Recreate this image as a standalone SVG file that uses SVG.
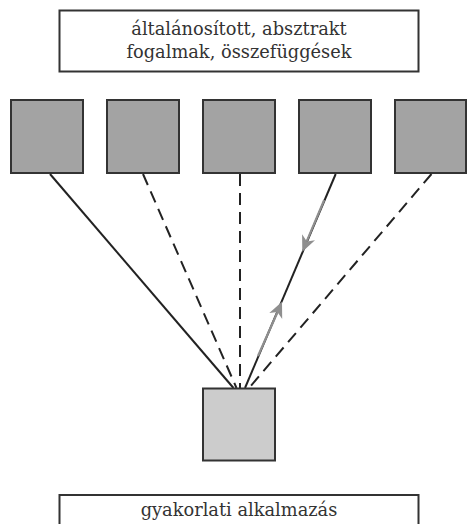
<svg xmlns="http://www.w3.org/2000/svg" width="467" height="524" viewBox="0 0 467 524">
  <style>
    .label { fill: #ffffff; stroke: #333333; stroke-width: 2; }
    .concept { fill: #a3a3a3; stroke: #333333; stroke-width: 2; }
    .practice { fill: #cccccc; stroke: #333333; stroke-width: 2; }
    .txt { font-family: "DejaVu Serif", serif; font-size: 17.8px; fill: #333333; text-anchor: middle; }
    .solid { stroke: #222222; stroke-width: 2; fill: none; }
    .dashed { stroke: #222222; stroke-width: 2; fill: none; stroke-dasharray: 12 7; }
    .flow { stroke: #8f8f8f; stroke-width: 2.2; fill: none; }
    .head { fill: #8f8f8f; stroke: none; }
  </style>

  <!-- upper label: abstract concepts -->
  <g id="abstract-label">
    <rect class="label" x="59.5" y="10.5" width="359" height="61"/>
    <text class="txt" x="239" y="35">általánosított, absztrakt</text>
    <text class="txt" x="239" y="58">fogalmak, összefüggések</text>
  </g>

  <!-- row of concept nodes -->
  <g id="concept-1"><rect class="concept" x="11" y="100" width="72" height="73"/></g>
  <g id="concept-2"><rect class="concept" x="107" y="100" width="72" height="73"/></g>
  <g id="concept-3"><rect class="concept" x="203" y="100" width="72" height="73"/></g>
  <g id="concept-4"><rect class="concept" x="299" y="100" width="72" height="73"/></g>
  <g id="concept-5"><rect class="concept" x="395" y="100" width="71" height="73"/></g>

  <!-- links from the concepts down to the practice node -->
  <g id="connectors">
    <line class="solid" x1="50" y1="174" x2="233.5" y2="388"/>
    <line class="dashed" x1="143" y1="174" x2="236.5" y2="388"/>
    <line class="dashed" x1="240" y1="174" x2="240" y2="388"/>
    <line class="solid" x1="335.7" y1="174" x2="245" y2="388"/>
    <line class="dashed" x1="431.5" y1="174" x2="249" y2="388"/>

    <!-- two-way flow drawn over the fourth link -->
    <line class="flow" x1="324.2" y1="200" x2="306.6" y2="241.6"/>
    <polygon class="head" points="302.3,251.7 315,240.3 306.9,241.4 302.1,234.3"/>
    <line class="flow" x1="277.7" y1="311.8" x2="258" y2="356"/>
    <polygon class="head" points="282,301.7 269.3,313.1 277.4,312 282.2,319.1"/>
  </g>

  <!-- practice node -->
  <g id="practice-node">
    <rect class="practice" x="203" y="388.5" width="72" height="72"/>
  </g>

  <!-- lower label: practical application -->
  <g id="practice-label">
    <rect class="label" x="59.5" y="495" width="359" height="40"/>
    <text class="txt" x="239" y="516">gyakorlati alkalmazás</text>
  </g>
</svg>
